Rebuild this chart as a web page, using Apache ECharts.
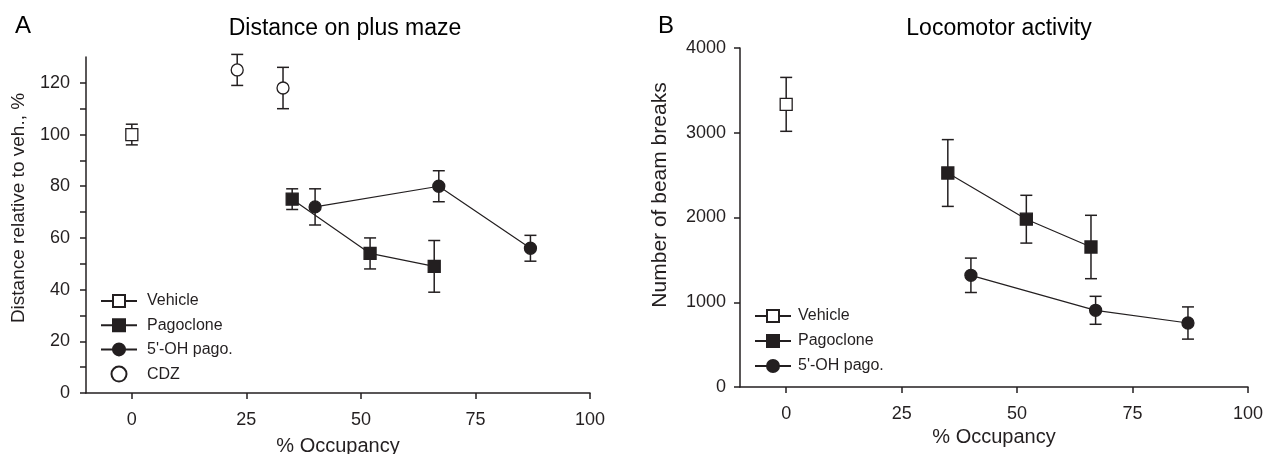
<!DOCTYPE html>
<html>
<head>
<meta charset="utf-8">
<script src="https://cdn.jsdelivr.net/npm/echarts@6/dist/echarts.min.js"></script>
<style>
html,body{margin:0;padding:0;background:#fff;}
#main{width:1264px;height:454px;}
</style>
</head>
<body>
<div id="main"></div>
<script>
// ---- Panel A: Distance on plus maze (% of vehicle) ----
const occVehicleA = [0];
const distVehicle = [100];
const distVehicleSem = [4];

const occPagoA = [35, 52, 66];
const distPago = [75, 54, 49];
const distPagoSem = [4, 6, 10];

const occOHA = [40, 67, 87];
const distOH = [72, 80, 56];
const distOHSem = [7, 6, 5];

const occCDZ = [23, 33];
const distCDZ = [125, 118];
const distCDZSem = [6, 8];

// ---- Panel B: Locomotor activity (beam breaks) ----
const occVehicleB = [0];
const beamVehicle = [3335];
const beamVehicleSem = [318];

const occPagoB = [35, 52, 66];
const beamPago = [2525, 1980, 1652];
const beamPagoSem = [394, 282, 374];

const occOHB = [40, 67, 87];
const beamOH = [1318, 905, 755];
const beamOHSem = [203, 165, 190];

const xTicks = [0, 25, 50, 75, 100];
const legendA = ['Vehicle', 'Pagoclone', "5'-OH pago.", 'CDZ'];
const legendB = ['Vehicle', 'Pagoclone', "5'-OH pago."];

const INK = '#231f20';
const FONT = '"Liberation Sans", Arial, Helvetica, sans-serif';

function pts(xs, ys) { return xs.map((x, i) => [x, ys[i]]); }
function errPts(xs, ys, es) { return xs.map((x, i) => [x, ys[i] - es[i], ys[i] + es[i]]); }

function errSeries(xs, ys, es, axisIdx) {
  return {
    type: 'custom',
    xAxisIndex: axisIdx, yAxisIndex: axisIdx,
    silent: true, z: 1,
    data: errPts(xs, ys, es),
    renderItem: function (params, api) {
      const x = api.value(0);
      const lo = api.coord([x, api.value(1)]);
      const hi = api.coord([x, api.value(2)]);
      const w = 6;
      const st = { stroke: INK, lineWidth: 1.5 };
      return {
        type: 'group',
        children: [
          { type: 'line', shape: { x1: lo[0], y1: lo[1], x2: hi[0], y2: hi[1] }, style: st },
          { type: 'line', shape: { x1: lo[0] - w, y1: lo[1], x2: lo[0] + w, y2: lo[1] }, style: st },
          { type: 'line', shape: { x1: hi[0] - w, y1: hi[1], x2: hi[0] + w, y2: hi[1] }, style: st }
        ]
      };
    }
  };
}

function markSeries(name, xs, ys, symbol, filled, axisIdx, showLine) {
  return {
    name: name,
    type: showLine ? 'line' : 'scatter',
    xAxisIndex: axisIdx, yAxisIndex: axisIdx,
    data: pts(xs, ys),
    symbol: symbol,
    symbolSize: 12,
    z: 3,
    lineStyle: { color: INK, width: 1.2 },
    itemStyle: { color: filled ? INK : '#ffffff', borderColor: INK, borderWidth: 1.3, opacity: 1 },
    emphasis: { disabled: true },
    animation: false
  };
}

function xAxisCfg(gi, nameGap, labelMargin) {
  return {
    type: 'value', gridIndex: gi, min: -10, max: 100,
    name: '% Occupancy', nameLocation: 'middle', nameGap: nameGap,
    nameTextStyle: { fontSize: 20, color: INK, fontFamily: FONT },
    axisLine: { show: true, onZero: false, lineStyle: { color: INK, width: 1.5 } },
    axisTick: { show: true, length: 6, inside: false, customValues: xTicks, lineStyle: { color: INK, width: 1.5 } },
    axisLabel: { customValues: xTicks, fontSize: 18, color: INK, fontFamily: FONT, margin: labelMargin },
    splitLine: { show: false }
  };
}

const chart = echarts.init(document.getElementById('main'), null, { renderer: 'canvas' });
chart.setOption({
  animation: false,
  backgroundColor: '#ffffff',
  textStyle: { fontFamily: FONT, color: INK },
  title: [
    { text: 'A', left: 10, top: 9, textStyle: { fontSize: 24, fontWeight: 'normal', color: '#000', fontFamily: FONT } },
    { text: 'Distance on plus maze', left: 340, top: 12, textAlign: 'center', textStyle: { fontSize: 23, fontWeight: 'normal', color: '#000', fontFamily: FONT } },
    { text: 'B', left: 653, top: 9, textStyle: { fontSize: 24, fontWeight: 'normal', color: '#000', fontFamily: FONT } },
    { text: 'Locomotor activity', left: 994, top: 12, textAlign: 'center', textStyle: { fontSize: 23, fontWeight: 'normal', color: '#000', fontFamily: FONT } }
  ],
  legend: [
    {
      data: legendA, orient: 'vertical', left: 95, top: 288,
      itemWidth: 36, itemHeight: 15, itemGap: 8.2,
      textStyle: { fontSize: 16, color: INK, fontFamily: FONT, padding: [0, 0, 0, 5], lineHeight: 15 },
      selectedMode: false, inactiveColor: INK
    },
    {
      data: legendB, orient: 'vertical', left: 749, top: 303,
      itemWidth: 36, itemHeight: 15, itemGap: 9.0,
      textStyle: { fontSize: 16, color: INK, fontFamily: FONT, padding: [0, 0, 0, 2], lineHeight: 15 },
      selectedMode: false, inactiveColor: INK
    }
  ],
  grid: [
    { left: 86, top: 57, width: 504, height: 336, containLabel: false, outerBoundsMode: 'none' },
    { left: 740, top: 48, width: 508, height: 339, containLabel: false, outerBoundsMode: 'none' }
  ],
  xAxis: [xAxisCfg(0, 43, 18), xAxisCfg(1, 34, 18)],
  yAxis: [
    {
      type: 'value', gridIndex: 0, min: 0, max: 130, interval: 10,
      name: 'Distance relative to veh., %', nameLocation: 'middle', nameGap: 58,
      nameTextStyle: { fontSize: 19, color: INK, fontFamily: FONT, padding: [0, 0, 0, 34] },
      axisLine: { show: true, onZero: false, lineStyle: { color: INK, width: 1.5 } },
      axisTick: { show: true, length: 6, lineStyle: { color: INK, width: 1.5 } },
      axisLabel: {
        fontSize: 18, color: INK, fontFamily: FONT, margin: 16, showMaxLabel: false,
        formatter: function (v) { return (v % 20 === 0 && v <= 120) ? String(v) : ''; }
      },
      splitLine: { show: false }
    },
    {
      type: 'value', gridIndex: 1, min: 0, max: 4000, interval: 1000,
      name: 'Number of beam breaks', nameLocation: 'middle', nameGap: 69,
      nameTextStyle: { fontSize: 21, color: INK, fontFamily: FONT, padding: [0, 0, 0, 45] },
      axisLine: { show: true, onZero: false, lineStyle: { color: INK, width: 1.5 } },
      axisTick: { show: true, length: 6, lineStyle: { color: INK, width: 1.5 } },
      axisLabel: { fontSize: 18, color: INK, fontFamily: FONT, margin: 14, formatter: function (v) { return String(v); } },
      splitLine: { show: false }
    }
  ],
  series: [
    errSeries(occVehicleA, distVehicle, distVehicleSem, 0),
    errSeries(occPagoA, distPago, distPagoSem, 0),
    errSeries(occOHA, distOH, distOHSem, 0),
    errSeries(occCDZ, distCDZ, distCDZSem, 0),
    markSeries('Vehicle', occVehicleA, distVehicle, 'rect', false, 0, true),
    markSeries('Pagoclone', occPagoA, distPago, 'rect', true, 0, true),
    markSeries("5'-OH pago.", occOHA, distOH, 'circle', true, 0, true),
    markSeries('CDZ', occCDZ, distCDZ, 'circle', false, 0, false),

    errSeries(occVehicleB, beamVehicle, beamVehicleSem, 1),
    errSeries(occPagoB, beamPago, beamPagoSem, 1),
    errSeries(occOHB, beamOH, beamOHSem, 1),
    markSeries('Vehicle', occVehicleB, beamVehicle, 'rect', false, 1, true),
    markSeries('Pagoclone', occPagoB, beamPago, 'rect', true, 1, true),
    markSeries("5'-OH pago.", occOHB, beamOH, 'circle', true, 1, true)
  ]
});
</script>
</body>
</html>
